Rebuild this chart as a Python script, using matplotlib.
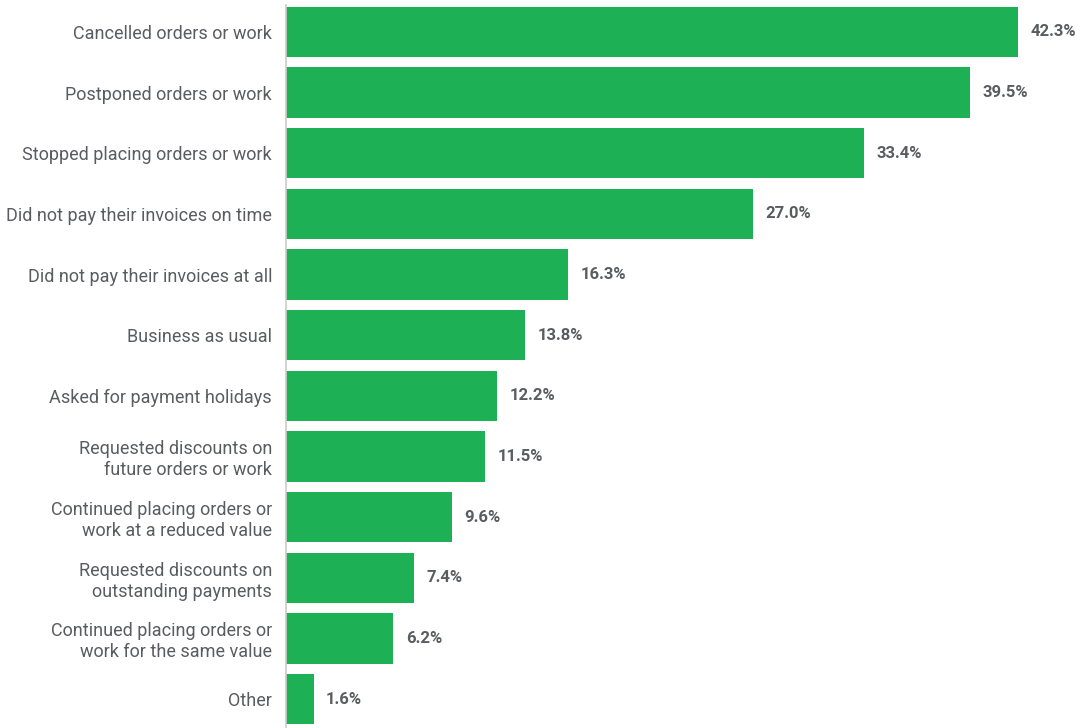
import matplotlib
matplotlib.use("Agg")
import matplotlib.pyplot as plt
from matplotlib import font_manager

categories = [
    "Cancelled orders or work",
    "Postponed orders or work",
    "Stopped placing orders or work",
    "Did not pay their invoices on time",
    "Did not pay their invoices at all",
    "Business as usual",
    "Asked for payment holidays",
    "Requested discounts on\nfuture orders or work",
    "Continued placing orders or\nwork at a reduced value",
    "Requested discounts on\noutstanding payments",
    "Continued placing orders or\nwork for the same value",
    "Other",
]
values = [42.3, 39.5, 33.4, 27.0, 16.3, 13.8, 12.2, 11.5, 9.6, 7.4, 6.2, 1.6]
value_labels = ["42.3%", "39.5%", "33.4%", "27.0%", "16.3%", "13.8%",
                "12.2%", "11.5%", "9.6%", "7.4%", "6.2%", "1.6%"]

names = {f.name for f in font_manager.fontManager.ttflist}
fam = ["Liberation Sans Narrow", "Roboto", "DejaVu Sans"]
fam = [f for f in fam if f in names] or ["DejaVu Sans"]
plt.rcParams["font.family"] = fam

GREEN = "#1EB054"
TEXT = "#5a5c60"

fig = plt.figure(figsize=(10.82, 7.28), dpi=100)
ax = fig.add_axes([286 / 1082, 0, 1 - 286 / 1082, 1 - 5 / 728])

ypos = list(range(len(categories)))
ax.barh(ypos, values, height=0.83, color=GREEN, zorder=2)
ax.set_xlim(0, 46.0)
ax.set_ylim(11.478, -0.445)

ax.set_yticks(ypos)
ax.set_yticklabels(categories, fontsize=13.0, color=TEXT, linespacing=1.2)
ax.tick_params(axis="y", length=0, pad=10)
ax.set_xticks([])

for s in ["top", "right", "bottom"]:
    ax.spines[s].set_visible(False)
ax.spines["left"].set_color("#cccccc")
ax.spines["left"].set_linewidth(1.2)

for y, v, lab in zip(ypos, values, value_labels):
    ax.annotate(lab, xy=(v, y), xytext=(9, 0), textcoords="offset points",
                va="center", ha="left", fontsize=12, fontweight="bold",
                color=TEXT)

fig.savefig("out.png", dpi=100)
